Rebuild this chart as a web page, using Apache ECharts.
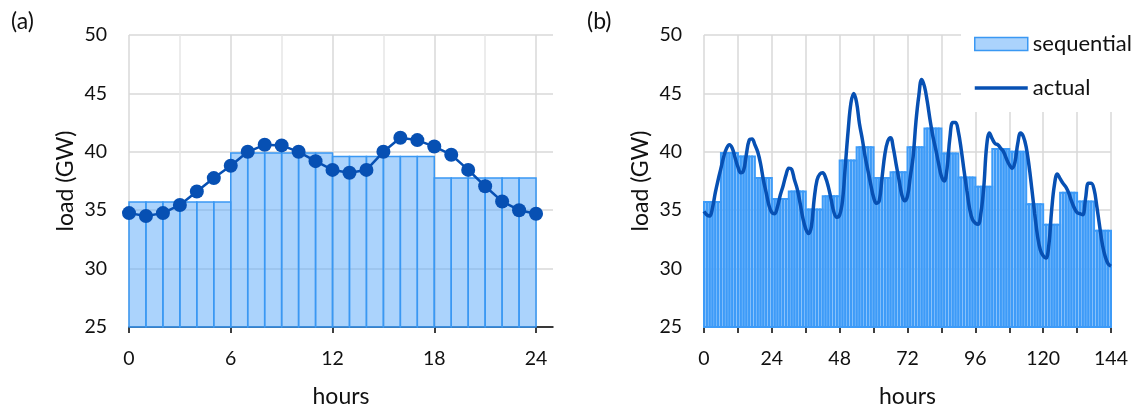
<!DOCTYPE html>
<html>
<head>
<meta charset="utf-8">
<script src="https://cdn.jsdelivr.net/npm/echarts@6/dist/echarts.min.js"></script>
<style>
html,body{margin:0;padding:0;background:#fff;}
#chart{width:1135px;height:407px;}
</style>
</head>
<body>
<div id="chart"></div>
<script>
// ---- data ----
// sequential load per 6-hour block (GW), 24 blocks = 144 hours
const blockLoad = [35.7, 39.9, 39.6, 37.75, 35.95, 36.6, 35.05, 36.2, 39.25, 40.4, 37.75, 38.25,
                   40.4, 42.0, 39.85, 37.8, 37.0, 40.25, 40.0, 35.5, 33.75, 36.5, 35.75, 33.25];
const blockHours = 6;
// panel (a): hourly actual load, hours 0..24
const dayHours = [0,1,2,3,4,5,6,7,8,9,10,11,12,13,14,15,16,17,18,19,20,21,22,23,24];
const dayLoad = [34.75, 34.5, 34.75, 35.45, 36.6, 37.75, 38.8, 40.0, 40.6, 40.55, 40.0, 39.2, 38.45,
                 38.2, 38.45, 40.0, 41.2, 41.0, 40.45, 39.75, 38.45, 37.05, 35.75, 35.0, 34.7];
// panel (b): hourly actual load, hours 0..144
const weekLoad = [
 34.9,34.6,34.5,35.2,36.5,37.6,38.6,39.6,40.3,40.6,40.3,39.5,38.7,38.2,38.4,39.8,41.0,41.1,40.6,40.0,39.0,37.6,36.5,35.4,
 34.8,34.7,35.3,36.3,37.1,38.0,38.6,38.5,37.6,36.8,35.6,34.3,33.4,33.0,33.6,36.0,37.6,38.1,38.2,37.8,37.0,35.9,34.8,34.4,
 34.6,35.8,38.8,41.8,44.2,45.0,44.2,42.4,41.1,39.6,38.4,37.2,36.1,35.6,35.8,37.8,39.8,40.9,41.2,40.3,38.9,37.6,36.3,35.8,
 36.2,37.9,39.6,42.6,44.8,46.2,45.6,44.3,42.7,41.3,40.2,39.0,37.9,37.5,38.6,41.2,42.5,42.5,41.7,40.2,38.4,36.7,35.1,34.2,
 33.9,33.8,34.8,37.0,40.5,41.6,41.1,40.7,40.6,40.3,40.0,39.4,38.9,38.6,39.1,40.7,41.6,41.3,40.4,38.8,36.8,34.7,32.8,31.6,
 31.1,30.9,32.0,35.0,37.2,38.1,37.7,37.3,37.0,36.5,35.8,35.2,34.8,34.7,34.6,36.0,37.3,37.3,36.8,35.3,33.6,32.0,31.0,30.4,
 30.2];
const yTicks = [25, 30, 35, 40, 45, 50];
const aLabels = [0, 6, 12, 18, 24];
const aMinorGrid = [3, 9, 15, 21];
const bLabels = [0, 24, 48, 72, 96, 120, 144];

// ---- build ----
const FONT = 'Lato';
const TXT = '#111';
const FILL = 'rgba(88,168,250,0.5)';
const EDGE = '#3a98f3';
const LINE = '#0750b3';
const GRIDC = '#d9d9d9';

function hourlyBars(blocks, nBlocks) {
  const out = [];
  for (let b = 0; b < nBlocks; b++) {
    for (let k = 0; k < blockHours; k++) {
      const h = b * blockHours + k;
      out.push([h, h + 1, blocks[b]]);
    }
  }
  return out;
}
const barsA = hourlyBars(blockLoad, 4);
const barsB = hourlyBars(blockLoad, blockLoad.length);

function makeBarRenderer(lineWidth, stroke) {
  return function (params, api) {
    const x0 = api.value(0), x1 = api.value(1), v = api.value(2);
    const p0 = api.coord([x0, v]);
    const p1 = api.coord([x1, yTicks[0]]);
    return {
      type: 'rect',
      shape: { x: p0[0], y: p0[1], width: p1[0] - p0[0], height: p1[1] - p0[1] },
      style: { fill: FILL, stroke: stroke, lineWidth: lineWidth }
    };
  };
}

const yAxisBase = (gridIndex) => ({
  type: 'value', gridIndex, min: yTicks[0], max: yTicks[yTicks.length - 1], interval: 5,
  name: 'load (GW)', nameLocation: 'middle', nameGap: 52, nameRotate: 90,
  nameTextStyle: { fontFamily: FONT, fontSize: 23, color: TXT },
  axisLine: { show: false }, axisTick: { show: false },
  axisLabel: { fontFamily: FONT, fontSize: 19.5, color: TXT, margin: 22 },
  splitLine: { show: true, lineStyle: { color: GRIDC, width: 1.5 } }
});

const xCommonText = {
  nameLocation: 'middle', nameGap: 58,
  nameTextStyle: { fontFamily: FONT, fontSize: 23, color: TXT }
};

const option = {
  animation: false,
  backgroundColor: '#fff',
  title: [
    { text: '(a)', left: 6, top: 5, textStyle: { fontFamily: FONT, fontSize: 23, fontWeight: 'normal', color: TXT } },
    { text: '(b)', left: 582, top: 5, textStyle: { fontFamily: FONT, fontSize: 23, fontWeight: 'normal', color: TXT } }
  ],
  grid: [
    { left: 129, right: 582, top: 35, bottom: 80, outerBoundsMode: 'none', containLabel: false },
    { left: 704, right: 24, top: 35, bottom: 80, outerBoundsMode: 'none', containLabel: false }
  ],
  legend: {
    left: 961, top: 20, orient: 'vertical', itemWidth: 53, itemHeight: 13, itemGap: 22,
    padding: [13, 14, 13, 12], backgroundColor: '#fff',
    textStyle: { fontFamily: FONT, fontSize: 22, color: TXT, lineHeight: 22 },
    data: [
      { name: 'sequential', icon: 'rect', itemStyle: { color: FILL, borderColor: EDGE, borderWidth: 1.5 } },
      { name: 'actual', itemStyle: { color: 'rgba(0,0,0,0)', borderWidth: 0, opacity: 0 },
        lineStyle: { color: LINE, width: 3.5 } }
    ]
  },
  xAxis: [
    { // (a) minor vertical grid
      type: 'value', gridIndex: 0, position: 'bottom', min: 0, max: 25, interval: 3,
      axisLine: { show: false }, axisLabel: { show: false },
      axisTick: { show: false, customValues: aMinorGrid },
      splitLine: { show: true, lineStyle: { color: '#e6e6e6', width: 1.5 } }
    },
    Object.assign({ // (a) main axis
      type: 'value', gridIndex: 0, position: 'bottom', offset: 0, min: 0, max: 25, interval: 6, name: 'hours',
      axisLine: { show: true, lineStyle: { color: '#000', width: 1.5 } },
      axisTick: { show: true, length: 6, lineStyle: { color: '#000', width: 1.5 }, customValues: aLabels },
      axisLabel: { fontFamily: FONT, fontSize: 19.5, color: TXT, margin: 22, customValues: aLabels },
      splitLine: { show: true, lineStyle: { color: GRIDC, width: 1.5 } }
    }, xCommonText),
    Object.assign({ // (b)
      type: 'value', gridIndex: 1, position: 'bottom', min: 0, max: 144, interval: 12, name: 'hours',
      axisLine: { show: true, lineStyle: { color: '#000', width: 1.5 } },
      axisTick: { show: true, length: 6, lineStyle: { color: '#000', width: 1.5 } },
      axisLabel: { fontFamily: FONT, fontSize: 19.5, color: TXT, margin: 22, customValues: bLabels },
      splitLine: { show: true, lineStyle: { color: GRIDC, width: 1.5 } }
    }, xCommonText)
  ],
  yAxis: [yAxisBase(0), yAxisBase(1)],
  series: [
    { name: 'sequential (a)', type: 'custom', xAxisIndex: 1, yAxisIndex: 0, renderItem: makeBarRenderer(1.5, EDGE),
      encode: { x: [0, 1], y: 2 }, data: barsA, z: 2 },
    { name: 'actual (a)', type: 'line', xAxisIndex: 1, yAxisIndex: 0,
      data: dayHours.map((h, i) => [h, dayLoad[i]]),
      symbol: 'circle', symbolSize: 14, showSymbol: true,
      lineStyle: { color: LINE, width: 2.5 }, itemStyle: { color: LINE }, z: 3 },
    { name: 'sequential', type: 'custom', xAxisIndex: 2, yAxisIndex: 1, renderItem: makeBarRenderer(2, '#3d9bf8'),
      encode: { x: [0, 1], y: 2 }, data: barsB, itemStyle: { color: FILL, borderColor: EDGE }, z: 2 },
    { name: 'actual', type: 'line', xAxisIndex: 2, yAxisIndex: 1,
      data: weekLoad.map((v, i) => [i, v]),
      symbol: 'none', smooth: 0.4,
      lineStyle: { color: LINE, width: 3.5 }, itemStyle: { color: LINE }, z: 3 }
  ]
};

const chart = echarts.init(document.getElementById('chart'), null, { renderer: 'canvas' });
chart.setOption(option);
</script>
</body>
</html>
